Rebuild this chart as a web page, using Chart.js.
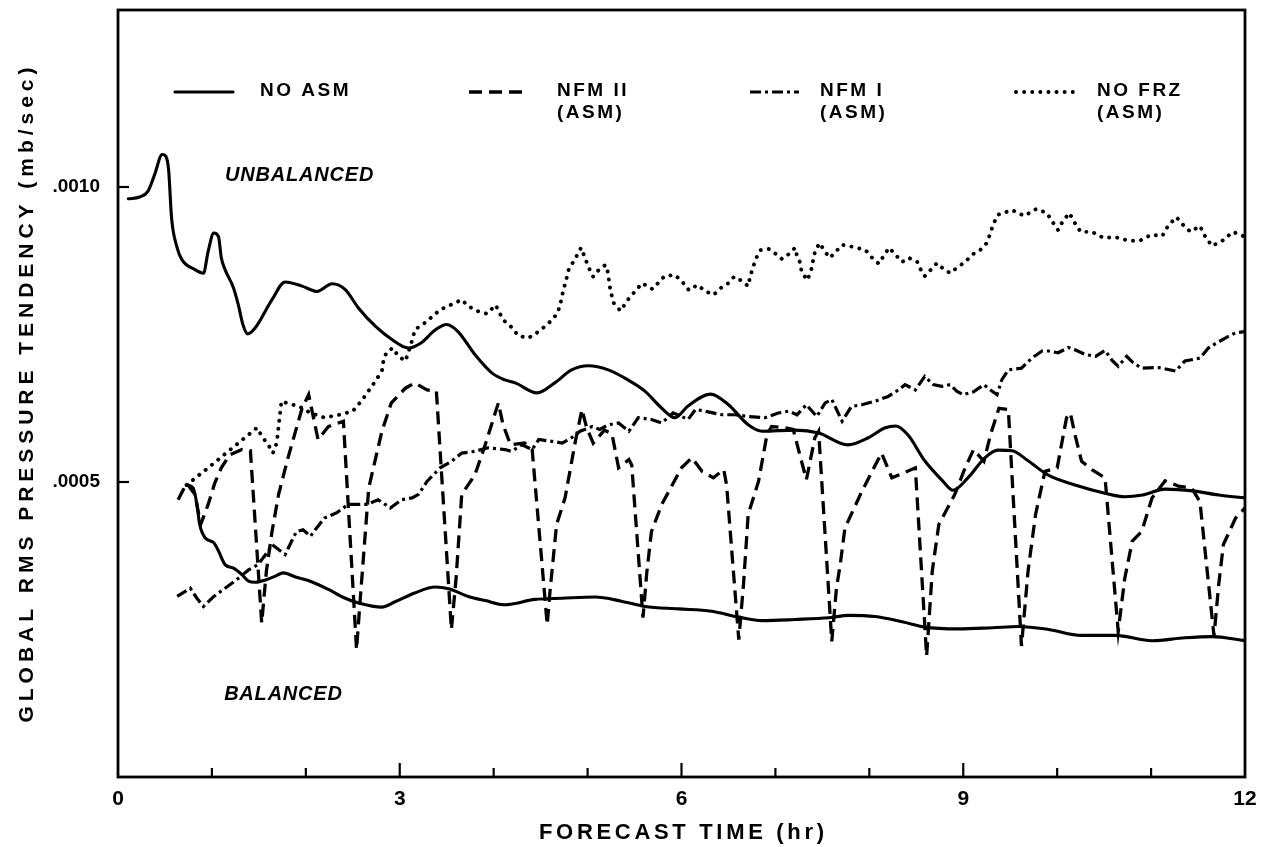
<!DOCTYPE html>
<html>
<head>
<meta charset="utf-8">
<script src="https://cdn.jsdelivr.net/npm/chart.js@4.4.1/dist/chart.umd.min.js"></script>
<style>
html,body{margin:0;padding:0;background:#fff;}
#wrap{width:1272px;height:847px;position:relative;}
</style>
</head>
<body>
<div id="wrap"><canvas id="c"></canvas></div>
<script>
// ---------------- DATA (hours, mb/sec) ----------------
const noAsmUnbalancedHr = [0.11,0.23,0.32,0.39,0.47,0.51,0.54,0.57,0.63,0.68,0.82,0.91,0.96,1.02,1.07,1.10,1.14,1.23,1.28,1.33,1.38,1.46,1.64,1.78,1.96,2.12,2.28,2.42,2.56,2.74,2.92,3.09,3.23,3.38,3.50,3.62,3.80,3.98,4.12,4.23,4.46,4.65,4.83,5.01,5.22,5.43,5.61,5.79,5.93,6.07,6.31,6.50,6.71,6.86,7.21,7.46,7.77,7.99,8.17,8.28,8.41,8.59,8.78,8.89,9.05,9.23,9.37,9.52,9.69,9.90,10.19,10.51,10.72,10.91,11.15,11.44,11.72,12.00];
const noAsmUnbalancedVal = [0.000980,0.000983,0.000993,0.001021,0.001055,0.001052,0.001027,0.000948,0.000897,0.000877,0.000860,0.000854,0.000891,0.000922,0.000916,0.000880,0.000860,0.000829,0.000801,0.000767,0.000751,0.000761,0.000809,0.000839,0.000832,0.000823,0.000836,0.000826,0.000795,0.000764,0.000741,0.000727,0.000736,0.000758,0.000767,0.000755,0.000716,0.000685,0.000673,0.000668,0.000651,0.000668,0.000690,0.000697,0.000690,0.000673,0.000654,0.000625,0.000609,0.000629,0.000649,0.000631,0.000597,0.000586,0.000588,0.000583,0.000563,0.000575,0.000592,0.000595,0.000580,0.000536,0.000502,0.000486,0.000507,0.000541,0.000554,0.000553,0.000536,0.000512,0.000495,0.000481,0.000475,0.000478,0.000488,0.000485,0.000478,0.000473];

const noAsmBalancedHr = [0.73,0.80,0.84,0.87,0.93,1.02,1.07,1.14,1.23,1.32,1.39,1.46,1.57,1.67,1.76,1.89,2.06,2.24,2.42,2.56,2.81,2.95,3.16,3.38,3.52,3.73,3.91,4.12,4.44,4.73,5.08,5.36,5.61,5.97,6.32,6.61,6.86,7.21,7.57,7.78,8.06,8.35,8.59,8.95,9.31,9.59,9.91,10.26,10.62,11.01,11.36,11.65,12.00];
const noAsmBalancedVal = [0.000495,0.000490,0.000462,0.000428,0.000405,0.000397,0.000383,0.000360,0.000354,0.000343,0.000332,0.000330,0.000334,0.000340,0.000346,0.000339,0.000331,0.000318,0.000303,0.000295,0.000288,0.000297,0.000312,0.000322,0.000319,0.000306,0.000299,0.000292,0.000301,0.000303,0.000305,0.000298,0.000289,0.000285,0.000281,0.000271,0.000265,0.000267,0.000270,0.000274,0.000272,0.000263,0.000254,0.000251,0.000253,0.000255,0.000250,0.000240,0.000240,0.000231,0.000236,0.000238,0.000231];

const nfm2Hr = [0.64,0.73,0.82,0.88,0.96,1.03,1.10,1.19,1.32,1.41,1.53,1.58,1.64,1.71,1.81,1.96,2.03,2.13,2.24,2.40,2.54,2.58,2.67,2.81,2.91,3.06,3.16,3.29,3.39,3.55,3.60,3.66,3.80,3.91,4.05,4.10,4.18,4.33,4.41,4.57,4.60,4.67,4.76,4.87,4.94,4.99,5.06,5.18,5.26,5.33,5.44,5.47,5.59,5.63,5.68,5.79,6.00,6.11,6.22,6.34,6.45,6.48,6.61,6.66,6.71,6.82,6.91,6.96,7.10,7.19,7.26,7.33,7.42,7.46,7.60,7.65,7.69,7.74,7.92,8.13,8.24,8.49,8.61,8.67,8.74,8.91,9.02,9.11,9.22,9.29,9.38,9.48,9.62,9.69,9.77,9.87,10.00,10.10,10.14,10.19,10.26,10.37,10.51,10.65,10.72,10.80,10.90,11.01,11.15,11.29,11.43,11.52,11.67,11.72,11.77,11.90,12.00];
const nfm2Val = [0.000470,0.000498,0.000479,0.000428,0.000462,0.000498,0.000524,0.000546,0.000555,0.000553,0.000261,0.000349,0.000416,0.000479,0.000541,0.000625,0.000648,0.000572,0.000594,0.000603,0.000216,0.000303,0.000490,0.000586,0.000634,0.000659,0.000668,0.000656,0.000654,0.000250,0.000337,0.000479,0.000512,0.000563,0.000634,0.000597,0.000563,0.000566,0.000555,0.000258,0.000315,0.000428,0.000473,0.000569,0.000623,0.000592,0.000566,0.000588,0.000581,0.000524,0.000538,0.000529,0.000270,0.000346,0.000416,0.000462,0.000524,0.000541,0.000518,0.000507,0.000521,0.000495,0.000233,0.000326,0.000445,0.000501,0.000580,0.000594,0.000592,0.000589,0.000546,0.000504,0.000575,0.000586,0.000230,0.000320,0.000360,0.000422,0.000484,0.000549,0.000507,0.000524,0.000205,0.000349,0.000428,0.000479,0.000524,0.000555,0.000535,0.000580,0.000625,0.000623,0.000222,0.000349,0.000445,0.000518,0.000524,0.000609,0.000617,0.000580,0.000535,0.000521,0.000507,0.000247,0.000337,0.000400,0.000416,0.000473,0.000502,0.000493,0.000490,0.000467,0.000239,0.000326,0.000394,0.000439,0.000456];

const nfm1Hr = [0.63,0.77,0.84,0.91,1.02,1.14,1.26,1.39,1.49,1.60,1.64,1.78,1.85,1.90,1.97,2.05,2.10,2.20,2.33,2.45,2.65,2.77,2.90,3.02,3.13,3.20,3.29,3.43,3.55,3.66,3.80,3.94,4.12,4.19,4.30,4.41,4.48,4.62,4.73,4.83,4.92,5.05,5.13,5.22,5.33,5.44,5.54,5.68,5.79,5.91,6.00,6.07,6.15,6.25,6.43,6.57,6.71,6.89,7.03,7.14,7.23,7.33,7.44,7.53,7.60,7.71,7.81,7.92,8.06,8.20,8.31,8.38,8.49,8.59,8.68,8.77,8.86,8.93,9.00,9.11,9.22,9.29,9.36,9.41,9.48,9.62,9.73,9.84,9.91,10.01,10.12,10.19,10.30,10.41,10.51,10.58,10.65,10.74,10.81,10.90,11.08,11.26,11.36,11.52,11.61,11.68,11.79,11.90,12.00];
const nfm1Val = [0.000306,0.000320,0.000303,0.000289,0.000306,0.000320,0.000334,0.000351,0.000360,0.000383,0.000394,0.000377,0.000400,0.000416,0.000419,0.000408,0.000419,0.000439,0.000448,0.000462,0.000462,0.000470,0.000456,0.000470,0.000473,0.000479,0.000501,0.000524,0.000535,0.000549,0.000552,0.000558,0.000555,0.000552,0.000563,0.000555,0.000572,0.000569,0.000566,0.000575,0.000586,0.000594,0.000589,0.000597,0.000600,0.000586,0.000609,0.000606,0.000600,0.000617,0.000611,0.000606,0.000623,0.000620,0.000614,0.000614,0.000611,0.000609,0.000617,0.000620,0.000614,0.000631,0.000611,0.000634,0.000640,0.000603,0.000628,0.000631,0.000637,0.000645,0.000656,0.000665,0.000656,0.000679,0.000665,0.000662,0.000665,0.000654,0.000648,0.000653,0.000665,0.000656,0.000648,0.000673,0.000690,0.000693,0.000710,0.000722,0.000722,0.000719,0.000728,0.000724,0.000716,0.000713,0.000723,0.000707,0.000696,0.000713,0.000702,0.000693,0.000694,0.000688,0.000705,0.000710,0.000727,0.000734,0.000744,0.000753,0.000755];

const noFrzHr = [0.73,0.96,1.19,1.35,1.48,1.53,1.60,1.65,1.69,1.74,1.83,1.92,2.05,2.20,2.36,2.50,2.60,2.71,2.81,2.83,2.87,2.93,2.98,3.06,3.09,3.14,3.16,3.27,3.43,3.54,3.66,3.73,3.82,3.93,4.02,4.10,4.20,4.26,4.37,4.46,4.54,4.61,4.68,4.71,4.74,4.77,4.80,4.86,4.93,4.97,5.01,5.06,5.11,5.19,5.22,5.23,5.25,5.28,5.35,5.43,5.51,5.58,5.69,5.75,5.82,5.93,6.01,6.08,6.17,6.25,6.34,6.42,6.50,6.56,6.64,6.71,6.73,6.76,6.79,6.84,6.93,7.01,7.07,7.14,7.21,7.23,7.26,7.28,7.34,7.38,7.42,7.47,7.53,7.58,7.64,7.71,7.84,7.96,8.03,8.10,8.16,8.21,8.28,8.35,8.42,8.51,8.55,8.59,8.65,8.72,8.79,8.86,8.94,9.02,9.10,9.18,9.25,9.29,9.32,9.37,9.52,9.65,9.78,9.89,9.95,10.01,10.06,10.13,10.18,10.25,10.37,10.49,10.62,10.76,10.88,11.00,11.12,11.18,11.27,11.34,11.42,11.52,11.58,11.65,11.77,11.87,11.98];
const noFrzVal = [0.000495,0.000524,0.000554,0.000575,0.000592,0.000578,0.000563,0.000549,0.000566,0.000637,0.000632,0.000629,0.000617,0.000609,0.000614,0.000620,0.000639,0.000664,0.000688,0.000710,0.000722,0.000727,0.000714,0.000705,0.000719,0.000744,0.000758,0.000770,0.000792,0.000800,0.000809,0.000798,0.000790,0.000785,0.000800,0.000775,0.000761,0.000748,0.000744,0.000753,0.000763,0.000773,0.000786,0.000802,0.000824,0.000841,0.000861,0.000876,0.000897,0.000881,0.000864,0.000848,0.000858,0.000868,0.000854,0.000837,0.000820,0.000803,0.000790,0.000809,0.000824,0.000837,0.000827,0.000837,0.000849,0.000851,0.000839,0.000825,0.000834,0.000824,0.000817,0.000829,0.000837,0.000848,0.000841,0.000832,0.000848,0.000863,0.000878,0.000893,0.000895,0.000886,0.000878,0.000886,0.000897,0.000883,0.000873,0.000856,0.000842,0.000859,0.000890,0.000905,0.000890,0.000880,0.000890,0.000902,0.000898,0.000893,0.000880,0.000870,0.000885,0.000897,0.000885,0.000873,0.000880,0.000873,0.000859,0.000849,0.000859,0.000871,0.000861,0.000854,0.000864,0.000873,0.000886,0.000893,0.000905,0.000922,0.000937,0.000953,0.000961,0.000951,0.000963,0.000956,0.000941,0.000927,0.000942,0.000956,0.000941,0.000924,0.000924,0.000914,0.000915,0.000909,0.000909,0.000919,0.000917,0.000934,0.000949,0.000936,0.000924,0.000934,0.000915,0.000900,0.000910,0.000924,0.000917];

const yTickValues = [0.0005, 0.0010];
const yTickLabels = ['.0005', '.0010'];
const xTickLabelHours = [0, 3, 6, 9, 12];
const legendNames = ['NO ASM', 'NFM II', 'NFM I', 'NO FRZ'];
const legendSubNames = ['', '(ASM)', '(ASM)', '(ASM)'];
const annotationTexts = ['UNBALANCED', 'BALANCED'];
const annotationHr = [1.14, 1.13];
const annotationVal = [0.00102, 0.000140];
const X_TITLE = 'FORECAST TIME (hr)';
const Y_TITLE = 'GLOBAL RMS PRESSURE TENDENCY (mb/sec)';

// ---------------- CHART ----------------
function pts(h, v) { return h.map((x, i) => ({x: x, y: v[i]})); }
const FONT = '"Liberation Sans", Arial, sans-serif';

const solidStyle = {borderColor:'#000', borderWidth:3.1, pointRadius:0, cubicInterpolationMode:'monotone', fill:false, borderCapStyle:'round', borderJoinStyle:'round'};

const datasets = [
  Object.assign({label: legendNames[0], data: pts(noAsmUnbalancedHr, noAsmUnbalancedVal)}, solidStyle),
  Object.assign({label: legendNames[0] + ' (balanced)', data: pts(noAsmBalancedHr, noAsmBalancedVal)}, solidStyle),
  {label: legendNames[1], data: pts(nfm2Hr, nfm2Val), borderColor:'#000', borderWidth:3.3, borderDash:[13,7], pointRadius:0, tension:0, fill:false, borderJoinStyle:'miter'},
  {label: legendNames[2], data: pts(nfm1Hr, nfm1Val), borderColor:'#000', borderWidth:3.2, borderDash:[11,4,3,4], pointRadius:0, tension:0, fill:false},
  {label: legendNames[3], data: pts(noFrzHr, noFrzVal), borderColor:'#000', borderWidth:3.9, borderDash:[0.1,8], borderCapStyle:'round', pointRadius:0, tension:0, fill:false}
];

function drawSpaced(ctx, text, cx, cy, rot, font, targetWidth) {
  ctx.save();
  ctx.font = font;
  ctx.letterSpacing = '0px';
  const w0 = ctx.measureText(text).width;
  const ls = Math.max(0, (targetWidth - w0) / (text.length - 1));
  ctx.letterSpacing = ls + 'px';
  ctx.translate(cx, cy);
  ctx.rotate(rot);
  ctx.textAlign = 'center';
  ctx.textBaseline = 'middle';
  ctx.fillText(text, ls / 2, 0);
  ctx.restore();
}

const legendLayout = [
  {ds:0, x1:175, x2:233, tx:260},
  {ds:2, x1:469, x2:527, tx:557},
  {ds:3, x1:750, x2:799, tx:820},
  {ds:4, x1:1016, x2:1077, tx:1097}
];

const decor = {
  id: 'decor',
  afterDraw(chart) {
    const ctx = chart.ctx;
    const a = chart.chartArea;
    const xs = chart.scales.x, ys = chart.scales.y;
    ctx.save();
    ctx.strokeStyle = '#000';
    ctx.fillStyle = '#000';
    ctx.setLineDash([]);
    // frame
    ctx.lineWidth = 2.8;
    ctx.strokeRect(a.left, a.top, a.right - a.left, a.bottom - a.top);
    // inward ticks
    ctx.lineWidth = 2.2;
    xs.ticks.forEach(t => {
      if (t.value <= xs.min || t.value >= xs.max) return;
      const px = xs.getPixelForValue(t.value);
      const len = (t.value % 3 === 0) ? 14 : 9;
      ctx.beginPath(); ctx.moveTo(px, a.bottom); ctx.lineTo(px, a.bottom - len); ctx.stroke();
    });
    ys.ticks.forEach(t => {
      const py = ys.getPixelForValue(t.value);
      ctx.beginPath(); ctx.moveTo(a.left, py); ctx.lineTo(a.left + 11, py); ctx.stroke();
    });
    // axis titles
    drawSpaced(ctx, X_TITLE, (a.left + a.right) / 2, 833, 0, 'bold 22px ' + FONT, 285);
    drawSpaced(ctx, Y_TITLE, 27, 395, -Math.PI / 2, 'bold 21px ' + FONT, 655);
    // annotations
    ctx.font = 'italic bold 20px ' + FONT;
    ctx.letterSpacing = '0.8px';
    ctx.textAlign = 'left';
    ctx.textBaseline = 'middle';
    annotationTexts.forEach((t, i) => {
      ctx.fillText(t, xs.getPixelForValue(annotationHr[i]), ys.getPixelForValue(annotationVal[i]));
    });
    // legend
    legendLayout.forEach((L, i) => {
      const ds = chart.data.datasets[L.ds];
      const yy = 92;
      ctx.save();
      ctx.lineWidth = ds.borderWidth;
      ctx.setLineDash(ds.borderDash || []);
      ctx.lineCap = ds.borderCapStyle || 'butt';
      ctx.beginPath(); ctx.moveTo(L.x1, yy); ctx.lineTo(L.x2, yy); ctx.stroke();
      ctx.restore();
      ctx.font = 'bold 19px ' + FONT;
      ctx.letterSpacing = '2.5px';
      ctx.textAlign = 'left';
      ctx.textBaseline = 'middle';
      ctx.fillText(legendNames[i], L.tx, 91);
      if (legendSubNames[i]) ctx.fillText(legendSubNames[i], L.tx, 113);
    });
    ctx.restore();
  }
};

new Chart(document.getElementById('c'), {
  type: 'line',
  data: {datasets: datasets},
  options: {
    responsive: true,
    maintainAspectRatio: false,
    animation: false,
    layout: {padding: {top: 10, right: 27, left: 0, bottom: 0}},
    plugins: {legend: {display: false}, tooltip: {enabled: false}},
    scales: {
      x: {
        type: 'linear', min: 0, max: 12,
        grid: {display: false, drawTicks: false},
        border: {display: false},
        ticks: {
          stepSize: 1, autoSkip: false, maxRotation: 0, color: '#000', padding: 10,
          font: {family: FONT, size: 21, weight: 'bold'},
          callback: v => xTickLabelHours.includes(v) ? String(v) : ''
        },
        title: {display: false},
        afterFit: s => { s.height = 70; s.paddingLeft = 0; s.paddingRight = 0; }
      },
      y: {
        type: 'linear', min: 0, max: 0.0013,
        grid: {display: false, drawTicks: false},
        border: {display: false},
        afterBuildTicks: s => { s.ticks = yTickValues.map(v => ({value: v})); },
        ticks: {
          color: '#000', padding: 18,
          font: {family: FONT, size: 19, weight: 'bold'},
          callback: v => { const i = yTickValues.findIndex(t => Math.abs(t - v) < 1e-9); return i >= 0 ? yTickLabels[i] : ''; }
        },
        title: {display: false},
        afterFit: s => { s.width = 118; s.paddingTop = 0; s.paddingBottom = 0; }
      }
    }
  },
  plugins: [decor]
});
</script>
</body>
</html>
